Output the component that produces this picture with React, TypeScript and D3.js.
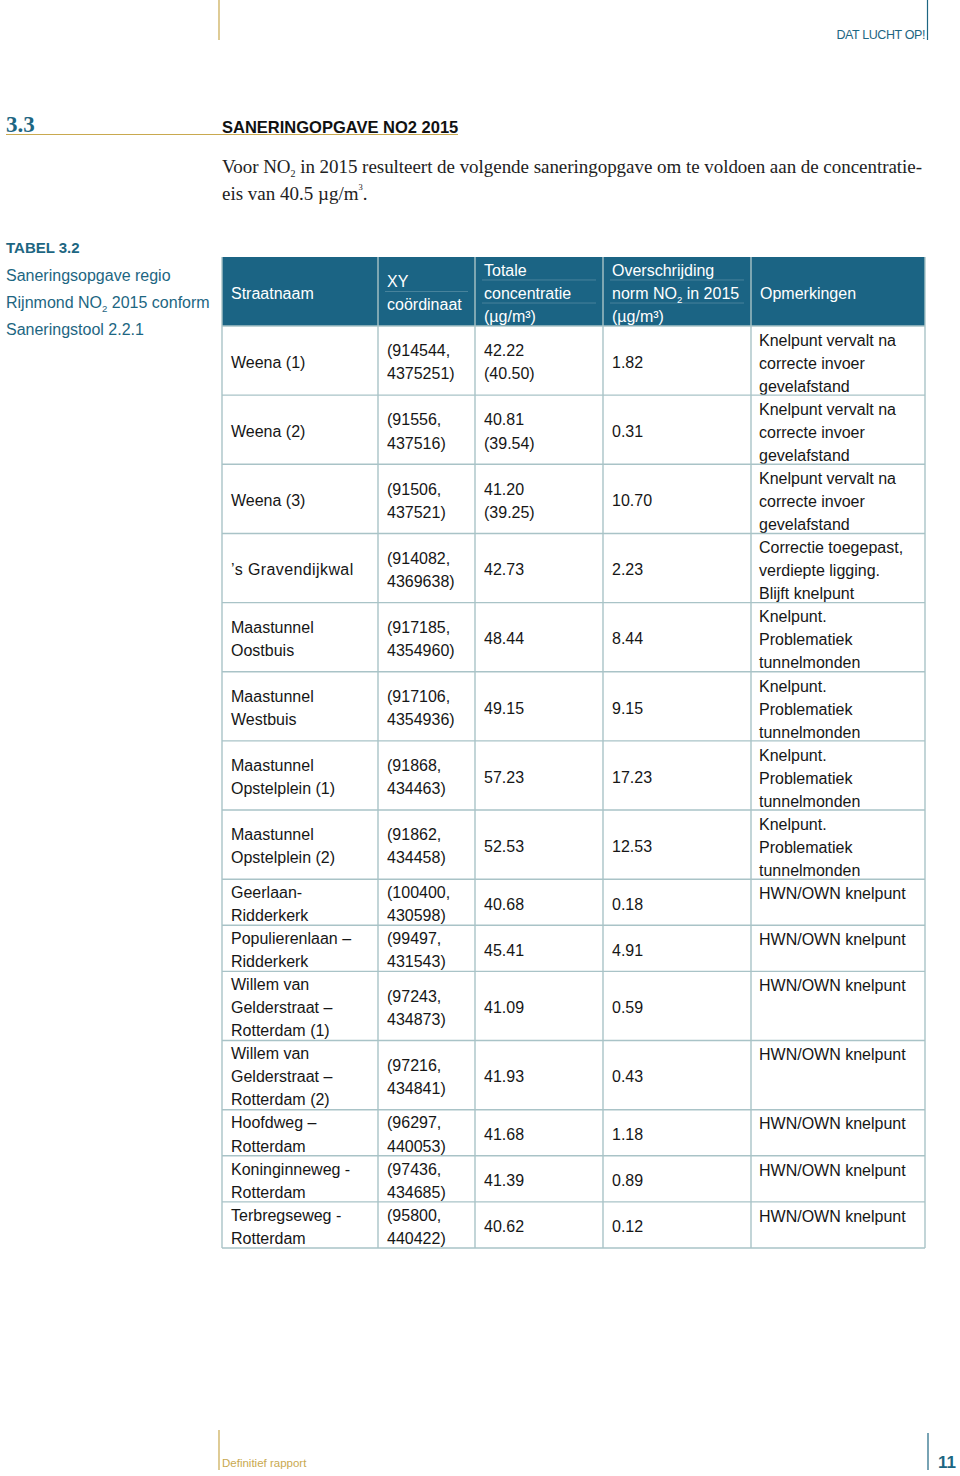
import React from "react";
import * as d3 from "d3";

const width = 960;
const height = 1476;

const teal = "#1d6682";
const gold = "#c9a94f";
const gridColor = "#a9c3c7";
const headerFill = "#1b6484";

// table data
const headers = [
  ["Straatnaam"],
  ["XY", "coördinaat"],
  ["Totale", "concentratie", "(µg/m³)"],
  ["Overschrijding", "norm NO2 in 2015", "(µg/m³)"],
  ["Opmerkingen"]
];

const streets = [
  ["Weena (1)"],
  ["Weena (2)"],
  ["Weena (3)"],
  ["’s Gravendijkwal"],
  ["Maastunnel", "Oostbuis"],
  ["Maastunnel", "Westbuis"],
  ["Maastunnel", "Opstelplein (1)"],
  ["Maastunnel", "Opstelplein (2)"],
  ["Geerlaan-", "Ridderkerk"],
  ["Populierenlaan –", "Ridderkerk"],
  ["Willem van", "Gelderstraat –", "Rotterdam (1)"],
  ["Willem van", "Gelderstraat –", "Rotterdam (2)"],
  ["Hoofdweg –", "Rotterdam"],
  ["Koninginneweg -", "Rotterdam"],
  ["Terbregseweg -", "Rotterdam"]
];

const coords = [
  ["(914544,", "4375251)"],
  ["(91556,", "437516)"],
  ["(91506,", "437521)"],
  ["(914082,", "4369638)"],
  ["(917185,", "4354960)"],
  ["(917106,", "4354936)"],
  ["(91868,", "434463)"],
  ["(91862,", "434458)"],
  ["(100400,", "430598)"],
  ["(99497,", "431543)"],
  ["(97243,", "434873)"],
  ["(97216,", "434841)"],
  ["(96297,", "440053)"],
  ["(97436,", "434685)"],
  ["(95800,", "440422)"]
];

const totals = [
  ["42.22", "(40.50)"],
  ["40.81", "(39.54)"],
  ["41.20", "(39.25)"],
  ["42.73"],
  ["48.44"],
  ["49.15"],
  ["57.23"],
  ["52.53"],
  ["40.68"],
  ["45.41"],
  ["41.09"],
  ["41.93"],
  ["41.68"],
  ["41.39"],
  ["40.62"]
];

const exceed = ["1.82", "0.31", "10.70", "2.23", "8.44", "9.15", "17.23", "12.53",
  "0.18", "4.91", "0.59", "0.43", "1.18", "0.89", "0.12"];

const knelpuntVervalt = ["Knelpunt vervalt na", "correcte invoer", "gevelafstand"];
const tunnel = ["Knelpunt.", "Problematiek", "tunnelmonden"];
const remarks = [
  knelpuntVervalt,
  knelpuntVervalt,
  knelpuntVervalt,
  ["Correctie toegepast,", "verdiepte ligging.", "Blijft knelpunt"],
  tunnel,
  tunnel,
  tunnel,
  tunnel,
  ["HWN/OWN knelpunt"],
  ["HWN/OWN knelpunt"],
  ["HWN/OWN knelpunt"],
  ["HWN/OWN knelpunt"],
  ["HWN/OWN knelpunt"],
  ["HWN/OWN knelpunt"],
  ["HWN/OWN knelpunt"]
];

const colWidths = [156, 97, 128, 148, 174];

const tableLeft = 222;
const headTop = 257;
const headH = 69;
const lineH = 23.05;
const fs = 16;
const font = "'Liberation Sans', Arial, sans-serif";

// renders "NO2" with a subscript 2
const withSub = (s: string, size: number) => {
  const parts = s.split("NO2");
  if (parts.length < 2) return s;
  return (
    <>
      {parts[0]}NO
      <tspan fontSize={size * 0.6} dy={4}>2</tspan>
      <tspan dy={-4}>{parts[1]}</tspan>
    </>
  );
};

const App = () => {
  const colX = [tableLeft, ...Array.from(d3.cumsum(colWidths), d => tableLeft + d)];
  const tableRight = colX[colX.length - 1];

  const rows = streets.map((s, i) => [s, coords[i], totals[i], [exceed[i]], remarks[i]]);
  const rowH = rows.map(r => d3.max(r, c => c.length)! * lineH);
  const rowY = [headTop + headH, ...Array.from(d3.cumsum(rowH), d => headTop + headH + d)];
  const tableBottom = rowY[rowY.length - 1];

  const centered = (lines: string[], x: number, cy: number, fill: string, key: string) =>
    lines.map((t, j) => (
      <text
        key={key + j}
        x={x}
        y={cy + 1.5 + (j - (lines.length - 1) / 2) * lineH}
        dy="0.36em"
        fill={fill}
        fontSize={fs}
        letterSpacing={t.startsWith("’s") ? 0.4 : 0}
      >
        {withSub(t, fs)}
      </text>
    ));

  return (
    <svg
      width={width}
      height={height}
      style={{ position: "absolute", left: 0, top: 0, background: "#fff" }}
      fontFamily={font}
    >
      {/* page header */}
      <line x1={219} x2={219} y1={0} y2={40} stroke={gold} strokeWidth={1.2} />
      <line x1={927.5} x2={927.5} y1={0} y2={40} stroke={teal} strokeWidth={1.2} />
      <text x={925} y={39} textAnchor="end" fill={teal} fontSize={12.5} letterSpacing={-0.4}>
        DAT LUCHT OP!
      </text>

      {/* section title */}
      <text x={6} y={132} fill={teal} fontSize={23} fontWeight="bold" fontFamily="'Liberation Serif', serif">
        3.3
      </text>
      <line x1={6} x2={458} y1={134.5} y2={134.5} stroke={gold} strokeWidth={1.2} />
      <text x={222} y={133} fill="#111" fontSize={16.5} fontWeight="bold">
        SANERINGOPGAVE NO2 2015
      </text>

      <text x={222} y={173} fill="#222" fontSize={19} fontFamily="'Liberation Serif', serif" textLength={700}>
        Voor NO<tspan fontSize={10} dy={4}>2</tspan>
        <tspan dy={-4}> in 2015 resulteert de volgende saneringopgave om te voldoen aan de concentratie-</tspan>
      </text>
      <text x={222} y={200} fill="#222" fontSize={19} fontFamily="'Liberation Serif', serif">
        eis van 40.5 µg/m<tspan fontSize={8.5} dy={-10}>3</tspan>
        <tspan dy={10}>.</tspan>
      </text>

      {/* table caption */}
      <text x={6} y={253} fill={teal} fontSize={15} fontWeight="bold">TABEL 3.2</text>
      {["Saneringsopgave regio", "Rijnmond NO2 2015 conform", "Saneringstool 2.2.1"].map((t, i) => (
        <text key={t} x={6} y={281 + i * 27} fill={teal} fontSize={16}>
          {withSub(t, 16)}
        </text>
      ))}

      {/* header */}
      <rect x={tableLeft} y={headTop} width={tableRight - tableLeft} height={headH} fill={headerFill} />
      {headers.map((h, ci) => (
        <g key={"h" + ci}>
          {h.slice(0, -1).map((_, j) => {
            const ly = headTop + headH / 2 + (j + 0.5 - (h.length - 1) / 2) * lineH;
            return (
              <line
                key={j}
                x1={colX[ci] + 7}
                x2={colX[ci + 1] - 7}
                y1={ly}
                y2={ly}
                stroke="#ffffff"
                strokeOpacity={0.2}
              />
            );
          })}
          {centered(h, colX[ci] + 9, headTop + headH / 2, "#fff", "h" + ci)}
        </g>
      ))}

      {/* body cells */}
      {rows.map((r, ri) => {
        const y0 = rowY[ri];
        const cy = y0 + rowH[ri] / 2;
        return (
          <g key={"r" + ri}>
            {r.slice(0, 4).map((c, ci) => centered(c, colX[ci] + 9, cy, "#161616", `c${ri}-${ci}`))}
            {r[4].map((t, j) => (
              <text key={"o" + j} x={colX[4] + 8} y={y0 + 14 + j * lineH} dy="0.36em" fill="#161616" fontSize={fs}>
                {t}
              </text>
            ))}
          </g>
        );
      })}

      {/* grid */}
      {rowY.map((y, i) => (
        <line key={"gy" + i} x1={tableLeft} x2={tableRight} y1={y} y2={y} stroke={gridColor} strokeWidth={1.4} />
      ))}
      {colX.map((x, i) => (
        <line key={"gx" + i} x1={x} x2={x} y1={headTop} y2={tableBottom} stroke={gridColor} strokeWidth={1.4} />
      ))}

      {/* footer */}
      <line x1={219} x2={219} y1={1430} y2={1470} stroke={gold} strokeWidth={1.2} />
      <text x={222} y={1467} fill={gold} fontSize={11.5}>Definitief rapport</text>
      <line x1={928} x2={928} y1={1433} y2={1470} stroke={teal} strokeWidth={1.2} />
      <text x={938} y={1468} fill={teal} fontSize={17} fontWeight="bold">11</text>
    </svg>
  );
};

export default App;
